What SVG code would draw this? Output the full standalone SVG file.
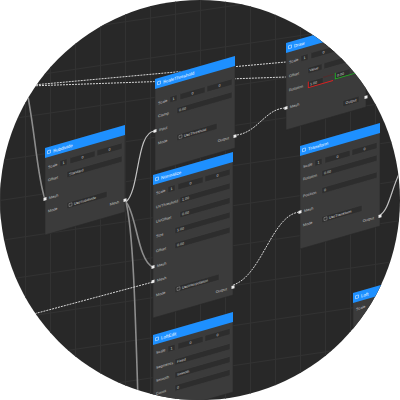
<svg xmlns="http://www.w3.org/2000/svg" width="400" height="400" viewBox="0 0 400 400">
<defs>
<clipPath id="c"><circle cx="200" cy="200" r="200"/></clipPath>
<pattern id="grid" width="25" height="40" patternUnits="userSpaceOnUse" patternTransform="skewY(-8.5)">
<path d="M0.5 0V40M0 0.5H25" stroke="#323232" stroke-width="1" fill="none"/>
</pattern>
<style>
.bd{fill:#3b3b3b;stroke:#2a2a2a;stroke-width:0.6}
.hd{fill:#1e90ff}
.ic{fill:none;stroke:#cfe6ff;stroke-width:0.6}
.ht{font-family:"Liberation Sans",sans-serif;font-size:4.5px;fill:#ffffff}
.lb{font-family:"Liberation Sans",sans-serif;font-size:3.8px;fill:#c4c4c4}
.ft{font-family:"Liberation Sans",sans-serif;font-size:3.6px;fill:#dcdcdc}
.fd{fill:#2d2d2d;stroke:#454545;stroke-width:0.4}
.cb{fill:none;stroke:#bbbbbb;stroke-width:0.4}
.pt{fill:#eeeeee}
.w{fill:none;stroke:#d8d8d8;stroke-width:1;stroke-dasharray:2 1}
.g{fill:none;stroke:#8c8c8c;stroke-width:1.6}
.s{fill:none;stroke:#c2c2c2;stroke-width:1.2}
</style>
</defs>
<rect width="400" height="400" fill="#ffffff"/>
<g clip-path="url(#c)">
<rect width="400" height="400" fill="#282828"/>
<rect width="400" height="400" fill="url(#grid)"/>

<g id="connectors">
<path class="w" d="M0,88 L286,62"/>
<path class="w" d="M0,87 L286,77"/>
<path class="g" d="M22,70 C34,110 36,175 45,199"/>
<path class="s" d="M126,202 C140,190 136,131 155,131"/>
<path class="g" d="M126,202 C136,212 138,262 153,267"/>
<path class="g" d="M126,202 C133,232 135,300 138,400"/>
<path class="w" d="M0,323 L153,282"/>
<path class="w" d="M237,135 C258,132 266,108 286,108"/>
<path class="w" d="M233,285 C262,276 272,214 300,212"/>
<path class="s" d="M380,215 C389,210 391,190 400,172"/>
</g>

<g id="node-subdivide" transform="translate(45,148) skewY(-16)">
<rect class="bd" width="80" height="87"/>
<rect class="hd" width="80" height="10"/>
<rect class="ic" x="2.5" y="3.5" width="3" height="3"/>
<text class="ht" x="8" y="6.8">Subdivide</text>
<text class="lb" x="3" y="21.3">Scale</text>
<rect class="fd" x="15" y="17" width="7" height="6"/><text class="ft" x="17.5" y="21.3">1</text>
<rect class="fd" x="25" y="17" width="25" height="6"/><text class="ft" x="37.5" y="21.3" text-anchor="middle">0</text>
<rect class="fd" x="52" y="17" width="25" height="6"/><text class="ft" x="64.5" y="21.3" text-anchor="middle">0</text>
<text class="lb" x="3" y="34.3">Offset</text>
<rect class="fd" x="22" y="30" width="55" height="6"/><text class="ft" x="24" y="34.3">Standard</text>
<rect class="pt" x="-1.5" y="49.5" width="3" height="3"/><text class="lb" x="4" y="52.3">Mesh</text>
<text class="lb" x="3" y="65.3">Mode</text>
<rect class="fd" x="22" y="61" width="40" height="6"/><rect class="cb" x="24" y="62.5" width="3" height="3"/><text class="ft" x="29" y="65.3">UseSubdivide</text>
<text class="lb" x="74" y="76.3" text-anchor="end">Mesh</text>
<rect class="pt" x="78.5" y="73.5" width="3" height="3"/>
</g>

<g id="node-threshold" transform="translate(155,79) skewY(-16)">
<rect class="bd" width="80" height="92"/>
<rect class="hd" width="80" height="10"/>
<rect class="ic" x="2.5" y="3.5" width="3" height="3"/>
<text class="ht" x="8" y="6.8">ScaleThreshold</text>
<text class="lb" x="3" y="26.3">Scale</text>
<rect class="fd" x="15" y="22" width="7" height="6"/><text class="ft" x="17.5" y="26.3">1</text>
<rect class="fd" x="25" y="22" width="25" height="6"/><text class="ft" x="37.5" y="26.3" text-anchor="middle">0</text>
<rect class="fd" x="52" y="22" width="25" height="6"/><text class="ft" x="64.5" y="26.3" text-anchor="middle">0</text>
<text class="lb" x="3" y="39.3">Clamp</text>
<rect class="fd" x="22" y="35" width="55" height="6"/><text class="ft" x="24" y="39.3">0.00</text>
<rect class="pt" x="-1.5" y="50.5" width="3" height="3"/><text class="lb" x="4" y="53.3">Input</text>
<text class="lb" x="3" y="66.3">Mode</text>
<rect class="fd" x="22" y="62" width="40" height="6"/><rect class="cb" x="24" y="63.5" width="3" height="3"/><text class="ft" x="29" y="66.3">UseThreshold</text>
<text class="lb" x="74" y="81.3" text-anchor="end">Output</text>
<rect class="pt" x="78.5" y="78.5" width="3" height="3"/>
</g>

<g id="node-normalize" transform="translate(153,175) skewY(-16)">
<rect class="bd" width="80" height="143"/>
<rect class="hd" width="80" height="10"/>
<rect class="ic" x="2.5" y="3.5" width="3" height="3"/>
<text class="ht" x="8" y="6.8">Normalize</text>
<text class="lb" x="3" y="20.3">Scale</text>
<rect class="fd" x="15" y="16" width="7" height="6"/><text class="ft" x="17.5" y="20.3">1</text>
<rect class="fd" x="25" y="16" width="25" height="6"/><text class="ft" x="37.5" y="20.3" text-anchor="middle">0</text>
<rect class="fd" x="52" y="16" width="25" height="6"/><text class="ft" x="64.5" y="20.3" text-anchor="middle">0</text>
<text class="lb" x="3" y="34.3">UVThreshold</text>
<rect class="fd" x="27" y="30" width="50" height="6"/><text class="ft" x="29" y="34.3">1.00</text>
<text class="lb" x="3" y="48.8">UVOffset</text>
<rect class="fd" x="27" y="44.5" width="50" height="6"/><text class="ft" x="29" y="48.8">0.00</text>
<text class="lb" x="3" y="63.3">Size</text>
<rect class="fd" x="22" y="59" width="55" height="6"/><text class="ft" x="24" y="63.3">1.00</text>
<text class="lb" x="3" y="78.3">Offset</text>
<rect class="fd" x="22" y="74" width="55" height="6"/><text class="ft" x="24" y="78.3">0.00</text>
<rect class="pt" x="-1.5" y="90.5" width="3" height="3"/><text class="lb" x="4" y="93.3">Mesh</text>
<rect class="pt" x="-1.5" y="105" width="3" height="3"/><text class="lb" x="4" y="107.8">Mesh</text>
<text class="lb" x="3" y="122.3">Mode</text>
<rect class="fd" x="22" y="118" width="44" height="6"/><rect class="cb" x="24" y="119.5" width="3" height="3"/><text class="ft" x="29" y="122.3">UseInterpolation</text>
<text class="lb" x="74" y="136.3" text-anchor="end">Output</text>
<rect class="pt" x="78.5" y="133.5" width="3" height="3"/>
</g>

<g id="node-draw" transform="translate(286,43) skewY(-16)">
<rect class="bd" width="80" height="87"/>
<rect class="hd" width="80" height="10"/>
<rect class="ic" x="2.5" y="3.5" width="3" height="3"/>
<text class="ht" x="8" y="6.8">Draw</text>
<text class="lb" x="3" y="21.3">Scale</text>
<rect class="fd" x="15" y="17" width="7" height="6"/><text class="ft" x="17.5" y="21.3">1</text>
<rect class="fd" x="25" y="17" width="25" height="6"/><text class="ft" x="37.5" y="21.3" text-anchor="middle">0</text>
<rect class="fd" x="52" y="17" width="25" height="6"/>
<text class="lb" x="3" y="35.3">Offset</text>
<rect class="fd" x="22" y="31" width="14" height="6"/><text class="ft" x="23.5" y="35.3">Value</text>
<rect class="fd" x="38" y="31" width="39" height="6"/>
<text class="lb" x="3" y="49.3">Rotation</text>
<rect class="fd" x="22" y="45" width="15" height="6"/><text class="ft" x="24" y="49.3">1.00</text>
<path d="M22.3,45 V51 H47" fill="none" stroke="#e02020" stroke-width="0.9"/>
<path d="M37,45 H48" fill="none" stroke="#6a2020" stroke-width="0.5"/>
<rect class="fd" x="49" y="44" width="15" height="6"/><text class="ft" x="51" y="48.3">0.00</text>
<path d="M49.3,44 V50 H72" fill="none" stroke="#20b020" stroke-width="0.9"/>
<rect class="pt" x="-1.5" y="63.5" width="3" height="3"/><text class="lb" x="4" y="66.3">Mesh</text>
<rect class="fd" x="57" y="74" width="16" height="6"/><text class="ft" x="65" y="78.3" text-anchor="middle">Output</text>
<rect class="pt" x="78.5" y="75.5" width="3" height="3"/>
</g>

<g id="node-transform" transform="translate(300,146) skewY(-16)">
<rect class="bd" width="80" height="103"/>
<rect class="hd" width="80" height="10"/>
<rect class="ic" x="2.5" y="3.5" width="3" height="3"/>
<text class="ht" x="8" y="6.8">Transform</text>
<text class="lb" x="3" y="22.8">Scale</text>
<rect class="fd" x="15" y="18.5" width="7" height="6"/><text class="ft" x="17.5" y="22.8">1</text>
<rect class="fd" x="25" y="18.5" width="25" height="6"/><text class="ft" x="37.5" y="22.8" text-anchor="middle">0</text>
<rect class="fd" x="52" y="18.5" width="25" height="6"/><text class="ft" x="64.5" y="22.8" text-anchor="middle">0</text>
<text class="lb" x="3" y="35.3">Rotation</text>
<rect class="fd" x="22" y="31" width="55" height="6"/><text class="ft" x="24" y="35.3">0.00</text>
<text class="lb" x="3" y="52.3">Position</text>
<rect class="fd" x="22" y="48" width="55" height="6"/><text class="ft" x="24" y="52.3">0</text>
<rect class="pt" x="-1.5" y="64.5" width="3" height="3"/><text class="lb" x="4" y="67.3">Mesh</text>
<text class="lb" x="3" y="81.3">Mode</text>
<rect class="fd" x="22" y="77" width="40" height="6"/><rect class="cb" x="24" y="78.5" width="3" height="3"/><text class="ft" x="29" y="81.3">UseTransform</text>
<text class="lb" x="74" y="94.3" text-anchor="end">Output</text>
<rect class="pt" x="78.5" y="91.5" width="3" height="3"/>
</g>

<g id="node-loft" transform="translate(153,335) skewY(-16)">
<rect class="bd" width="80" height="80"/>
<rect class="hd" width="80" height="10"/>
<rect class="ic" x="2.5" y="3.5" width="3" height="3"/>
<text class="ht" x="8" y="6.8">LoftEdit</text>
<text class="lb" x="3" y="19.8">Scale</text>
<rect class="fd" x="15" y="15.5" width="7" height="6"/><text class="ft" x="17.5" y="19.8">1</text>
<rect class="fd" x="25" y="15.5" width="25" height="6"/><text class="ft" x="37.5" y="19.8" text-anchor="middle">0</text>
<rect class="fd" x="52" y="15.5" width="25" height="6"/><text class="ft" x="64.5" y="19.8" text-anchor="middle">0</text>
<text class="lb" x="3" y="34.8">Segments</text>
<rect class="fd" x="22" y="30.5" width="55" height="6"/><text class="ft" x="24" y="34.8">Fixed</text>
<text class="lb" x="3" y="47.8">Smooth</text>
<rect class="fd" x="22" y="43.5" width="55" height="6"/><text class="ft" x="24" y="47.8">Smooth</text>
<text class="lb" x="3" y="60.8">Count</text>
<rect class="fd" x="22" y="56.5" width="55" height="6"/><text class="ft" x="24" y="60.8">0</text>
</g>

<g id="node-loft2" transform="translate(353,293) skewY(-16)">
<rect class="bd" width="80" height="40"/>
<rect class="hd" width="80" height="10"/>
<rect class="ic" x="2.5" y="3.5" width="3" height="3"/>
<text class="ht" x="8" y="6.8">Loft</text>
<text class="lb" x="3" y="18.3">Scale</text>
</g>
</g>
</svg>
